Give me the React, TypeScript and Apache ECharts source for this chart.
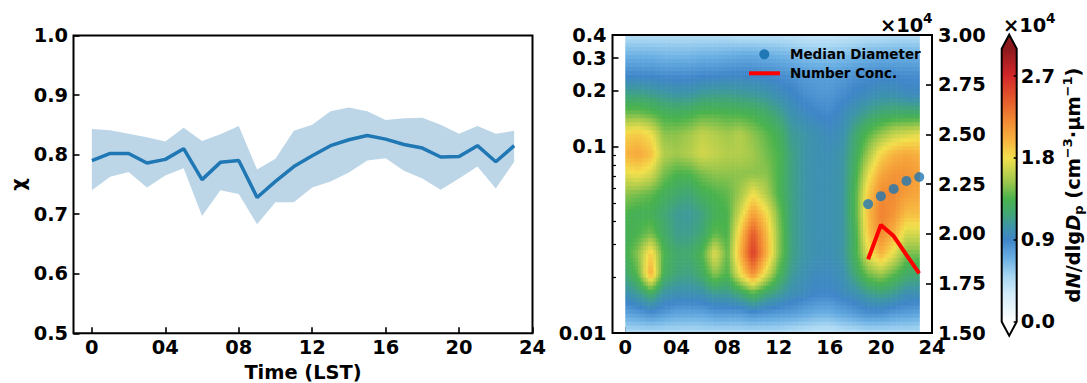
import React, { useEffect, useRef } from 'react';
import * as echarts from 'echarts';

// ---------------- data ----------------
const hours = [0, 1, 2, 3, 4, 5, 6, 7, 8, 9, 10, 11, 12, 13, 14, 15, 16, 17, 18, 19, 20, 21, 22, 23];
const chiMean = [0.79, 0.802, 0.802, 0.786, 0.792, 0.81, 0.758, 0.787, 0.79, 0.728, 0.755, 0.78, 0.798, 0.815, 0.825, 0.832, 0.826, 0.817, 0.811, 0.796, 0.797, 0.815, 0.788, 0.815];
const chiUpper = [0.843, 0.841, 0.835, 0.829, 0.822, 0.845, 0.823, 0.834, 0.848, 0.775, 0.793, 0.84, 0.85, 0.873, 0.879, 0.873, 0.858, 0.861, 0.862, 0.85, 0.835, 0.848, 0.835, 0.84];
const chiLower = [0.74, 0.763, 0.771, 0.745, 0.765, 0.777, 0.697, 0.74, 0.734, 0.683, 0.72, 0.72, 0.745, 0.755, 0.77, 0.79, 0.794, 0.773, 0.76, 0.741, 0.76, 0.78, 0.743, 0.788];

// particle diameter levels (µm) of the size distribution
const dpLevels = [0.01, 0.0128, 0.0164, 0.021, 0.0268, 0.0343, 0.0439, 0.0562, 0.0719, 0.092, 0.118, 0.151, 0.193, 0.246, 0.315, 0.4];
// dN/dlgDp (×10^4 cm^-3·µm^-1), one row per diameter level, one column per hour
const dNdlgDp = [
  [0.45, 0.45, 0.45, 0.45, 0.45, 0.45, 0.45, 0.45, 0.45, 0.45, 0.45, 0.45, 0.45, 0.42, 0.4, 0.36, 0.36, 0.4, 0.42, 0.45, 0.45, 0.45, 0.45, 0.45],
  [0.75, 0.8, 0.85, 0.8, 0.75, 0.75, 0.75, 0.8, 0.8, 0.8, 0.85, 0.82, 0.8, 0.78, 0.75, 0.7, 0.7, 0.75, 0.8, 0.85, 0.85, 0.8, 0.78, 0.75],
  [1.0, 1.1, 1.25, 1.05, 1.0, 1.0, 1.02, 1.1, 1.1, 1.2, 1.35, 1.2, 1.1, 1.0, 0.95, 0.9, 0.9, 0.95, 1.0, 1.1, 1.15, 1.1, 1.0, 1.0],
  [1.2, 1.4, 2.05, 1.3, 1.18, 1.15, 1.25, 1.5, 1.35, 1.8, 2.2, 1.75, 1.35, 1.1, 1.0, 0.95, 0.95, 1.0, 1.2, 1.45, 1.55, 1.4, 1.25, 1.2],
  [1.3, 1.5, 1.9, 1.35, 1.22, 1.22, 1.35, 1.75, 1.4, 2.0, 2.6, 2.05, 1.5, 1.15, 1.05, 1.0, 0.98, 1.05, 1.3, 1.75, 2.0, 1.75, 1.45, 1.45],
  [1.3, 1.35, 1.45, 1.25, 1.12, 1.12, 1.2, 1.4, 1.35, 1.9, 2.45, 2.0, 1.5, 1.15, 1.05, 1.0, 1.0, 1.05, 1.3, 1.9, 2.2, 2.0, 1.7, 1.7],
  [1.35, 1.3, 1.3, 1.2, 1.1, 1.08, 1.15, 1.3, 1.35, 1.7, 2.1, 1.85, 1.45, 1.15, 1.05, 1.0, 1.0, 1.05, 1.35, 1.95, 2.25, 2.15, 1.95, 1.95],
  [1.5, 1.45, 1.4, 1.3, 1.22, 1.18, 1.3, 1.35, 1.4, 1.55, 1.8, 1.6, 1.35, 1.15, 1.05, 1.0, 1.0, 1.05, 1.35, 1.9, 2.2, 2.2, 2.1, 2.05],
  [1.75, 1.8, 1.7, 1.45, 1.35, 1.35, 1.45, 1.5, 1.5, 1.5, 1.5, 1.5, 1.35, 1.15, 1.05, 1.0, 1.0, 1.05, 1.3, 1.75, 2.05, 2.15, 2.15, 2.1],
  [2.0, 2.05, 1.95, 1.6, 1.55, 1.6, 1.7, 1.65, 1.6, 1.6, 1.55, 1.45, 1.35, 1.15, 1.05, 1.0, 0.98, 1.05, 1.25, 1.55, 1.85, 2.0, 2.05, 2.0],
  [1.85, 1.9, 1.8, 1.5, 1.5, 1.55, 1.65, 1.6, 1.55, 1.6, 1.5, 1.4, 1.3, 1.1, 1.05, 1.0, 0.95, 1.0, 1.2, 1.38, 1.52, 1.65, 1.7, 1.75],
  [1.45, 1.45, 1.4, 1.32, 1.3, 1.32, 1.38, 1.38, 1.36, 1.35, 1.32, 1.25, 1.15, 1.02, 0.95, 0.9, 0.88, 0.95, 1.05, 1.15, 1.22, 1.25, 1.25, 1.25],
  [1.15, 1.15, 1.12, 1.08, 1.05, 1.05, 1.1, 1.12, 1.12, 1.1, 1.08, 1.05, 0.98, 0.92, 0.86, 0.82, 0.82, 0.86, 0.92, 0.96, 1.0, 1.0, 0.96, 0.95],
  [0.88, 0.88, 0.88, 0.86, 0.86, 0.86, 0.88, 0.88, 0.9, 0.9, 0.9, 0.88, 0.86, 0.84, 0.8, 0.78, 0.78, 0.8, 0.84, 0.86, 0.88, 0.88, 0.86, 0.86],
  [0.68, 0.68, 0.68, 0.66, 0.66, 0.66, 0.68, 0.68, 0.7, 0.72, 0.72, 0.7, 0.68, 0.65, 0.62, 0.6, 0.6, 0.62, 0.65, 0.68, 0.7, 0.7, 0.7, 0.7],
  [0.45, 0.45, 0.45, 0.45, 0.45, 0.45, 0.45, 0.45, 0.45, 0.42, 0.42, 0.42, 0.42, 0.4, 0.38, 0.36, 0.36, 0.38, 0.4, 0.42, 0.42, 0.45, 0.45, 0.45],
];

const evHours = [19, 20, 21, 22, 23];
const medianDiameter = [0.0493, 0.0544, 0.0595, 0.0657, 0.069];
const numberConc = [18710, 20440, 19880, 18930, 18000];

const timeTicks = [0, 4, 8, 12, 16, 20, 24];
const dpMajorTicks = [0.01, 0.1, 0.2, 0.3, 0.4];
const dpMinorTicks = [0.02, 0.03, 0.04, 0.05, 0.06, 0.07, 0.08, 0.09];
const cbTicks = [0, 0.9, 1.8, 2.7];
const cbMin = 0;
const cbMax = 3.0;

// ---------------- styles ----------------
const FONT = 'DejaVu Sans';
const cmapStops: [number, string][] = [
  [0.0, '#ffffff'],
  [0.3, '#d3ecfa'],
  [0.5, '#a7d6f2'],
  [0.7, '#6aafe3'],
  [0.9, '#3f86c9'],
  [1.05, '#3e96a6'],
  [1.2, '#42a872'],
  [1.35, '#4ab34e'],
  [1.55, '#a3c94c'],
  [1.8, '#f3e04d'],
  [2.0, '#f7b23f'],
  [2.2, '#f28b33'],
  [2.45, '#e4582b'],
  [2.7, '#d3272a'],
  [3.0, '#8c191c'],
];
const hexToRgb = (h: string) => [parseInt(h.slice(1, 3), 16), parseInt(h.slice(3, 5), 16), parseInt(h.slice(5, 7), 16)];
const stopRgb = cmapStops.map(([v, c]) => [v, hexToRgb(c)] as [number, number[]]);
function cmap(v: number) {
  if (v <= stopRgb[0][0]) return cmapStops[0][1];
  for (let k = 1; k < stopRgb.length; k++) {
    const [v1, c1] = stopRgb[k];
    if (v <= v1) {
      const [v0, c0] = stopRgb[k - 1];
      const t = (v - v0) / (v1 - v0);
      const r = Math.round(c0[0] + (c1[0] - c0[0]) * t);
      const g = Math.round(c0[1] + (c1[1] - c0[1]) * t);
      const b = Math.round(c0[2] + (c1[2] - c0[2]) * t);
      return `rgb(${r},${g},${b})`;
    }
  }
  return cmapStops[cmapStops.length - 1][1];
}

const labelStyle = { color: '#000', fontFamily: FONT, fontWeight: 'bold', fontSize: 19.4 };
const tickLine = { color: '#000', width: 1.6 };
const fmtHour = (v: number) => (v === 0 ? '0' : String(v).padStart(2, '0'));
const log10 = (v: number) => Math.log10(v);

const CB_L = 1001.7, CB_T = 48.7, CB_W = 15, CB_H = 273;

function timeAxis(gridIndex: number) {
  return {
    type: 'value', gridIndex, min: -1, max: 24,
    axisLine: { show: false, onZero: false },
    splitLine: { show: false },
    axisTick: { show: true, inside: true, length: 6, customValues: timeTicks, lineStyle: tickLine },
    axisLabel: { customValues: timeTicks, formatter: fmtHour, margin: 5, ...labelStyle },
  };
}

function buildOption() {
  const heatData: number[][] = [];
  for (let j = 0; j < dpLevels.length - 1; j++) {
    for (let i = 0; i < hours.length - 1; i++) {
      heatData.push([hours[i], log10(dpLevels[j]), i, j]);
    }
  }
  const SUB = 5;
  const renderHeat = (params: any, api: any) => {
    const i = api.value(2);
    const j = api.value(3);
    const p00 = api.coord([hours[i], log10(dpLevels[j])]);
    const p11 = api.coord([hours[i + 1], log10(dpLevels[j + 1])]);
    const v00 = dNdlgDp[j][i], v10 = dNdlgDp[j][i + 1];
    const v01 = dNdlgDp[j + 1][i], v11 = dNdlgDp[j + 1][i + 1];
    const w = (p11[0] - p00[0]) / SUB;
    const h = (p00[1] - p11[1]) / SUB;
    const children: any[] = [];
    for (let a = 0; a < SUB; a++) {
      for (let b = 0; b < SUB; b++) {
        const fx = (a + 0.5) / SUB;
        const fy = (b + 0.5) / SUB;
        const v = v00 * (1 - fx) * (1 - fy) + v10 * fx * (1 - fy) + v01 * (1 - fx) * fy + v11 * fx * fy;
        children.push({
          type: 'rect',
          shape: { x: p00[0] + a * w, y: p00[1] - (b + 1) * h, width: w + 0.6, height: h + 0.6 },
          style: { fill: cmap(v) },
        });
      }
    }
    return { type: 'group', children };
  };

  const renderBand = (params: any, api: any) => {
    if (params.dataIndex !== 0) return null;
    const pts: number[][] = [];
    hours.forEach((h, i) => pts.push(api.coord([h, chiUpper[i]])));
    for (let i = hours.length - 1; i >= 0; i--) pts.push(api.coord([hours[i], chiLower[i]]));
    return { type: 'polygon', shape: { points: pts }, style: { fill: '#bcd6e8' } };
  };

  const gradStops = cmapStops.map(([v, c]) => ({ offset: (v - cbMin) / (cbMax - cbMin), color: c }));
  const T = { fontFamily: FONT, fontWeight: 'bold', fill: '#000' };

  return {
    animation: false,
    backgroundColor: '#fff',
    grid: [
      { left: 73.5, top: 35.5, width: 459, height: 297.8, show: true, borderColor: '#000', borderWidth: 2, backgroundColor: 'transparent', outerBoundsMode: 'none', z: 10 },
      { left: 612.5, top: 35, width: 319.5, height: 298, show: true, borderColor: '#000', borderWidth: 2, backgroundColor: 'transparent', outerBoundsMode: 'none', z: 10 },
      { left: CB_L, top: CB_T, width: CB_W, height: CB_H, show: false, outerBoundsMode: 'none' },
    ],
    xAxis: [
      timeAxis(0),
      timeAxis(1),
      { type: 'value', gridIndex: 2, min: 0, max: 1, show: false },
    ],
    yAxis: [
      {
        type: 'value', gridIndex: 0, min: 0.5, max: 1.0, interval: 0.1,
        axisLine: { show: false, onZero: false }, splitLine: { show: false },
        axisTick: { show: true, inside: true, length: 6, lineStyle: tickLine },
        axisLabel: { formatter: (v: number) => v.toFixed(1), margin: 5.5, ...labelStyle },
      },
      {
        type: 'value', gridIndex: 1, position: 'left', min: log10(0.01), max: log10(0.4),
        axisLine: { show: false, onZero: false }, splitLine: { show: false },
        axisTick: { show: true, inside: true, length: 6, customValues: dpMajorTicks.map(log10), lineStyle: tickLine },
        axisLabel: { customValues: dpMajorTicks.map(log10), formatter: (v: number) => String(Number(Math.pow(10, v).toPrecision(2))), margin: 6, ...labelStyle },
      },
      {
        type: 'value', gridIndex: 1, position: 'right', min: 15000, max: 30000, interval: 2500,
        axisLine: { show: false, onZero: false }, splitLine: { show: false },
        axisTick: { show: true, inside: true, length: 6, lineStyle: tickLine },
        axisLabel: { formatter: (v: number) => (v / 1e4).toFixed(2), margin: 6, ...labelStyle },
      },
      {
        type: 'value', gridIndex: 1, position: 'left', min: log10(0.01), max: log10(0.4),
        axisLine: { show: false, onZero: false }, splitLine: { show: false },
        axisTick: { show: true, inside: true, length: 3.5, customValues: dpMinorTicks.map(log10), lineStyle: { color: '#000', width: 1.2 } },
        axisLabel: { show: false },
      },
      {
        type: 'value', gridIndex: 2, position: 'right', min: cbMin, max: cbMax, z: 20,
        axisLine: { show: false, onZero: false }, splitLine: { show: false },
        axisTick: { show: true, inside: true, length: 3, customValues: cbTicks, lineStyle: tickLine },
        axisLabel: { customValues: cbTicks, formatter: (v: number) => v.toFixed(1), margin: 4, ...labelStyle },
      },
    ],
    series: [
      {
        type: 'custom', xAxisIndex: 0, yAxisIndex: 0, silent: true, z: 1,
        encode: { x: 0, y: [1, 2] },
        renderItem: renderBand,
        data: hours.map((h, i) => [h, chiLower[i], chiUpper[i]]),
      },
      {
        type: 'line', xAxisIndex: 0, yAxisIndex: 0, symbol: 'none', silent: true, z: 3,
        lineStyle: { color: '#1f77b4', width: 3.5 },
        data: hours.map((h, i) => [h, chiMean[i]]),
      },
      {
        type: 'custom', xAxisIndex: 1, yAxisIndex: 1, silent: true, z: 1,
        encode: { x: 0, y: 1 },
        renderItem: renderHeat,
        data: heatData,
      },
      {
        type: 'scatter', name: 'Median Diameter', xAxisIndex: 1, yAxisIndex: 1, symbol: 'circle', symbolSize: 10, z: 12,
        itemStyle: { color: '#1f77b4' },
        data: evHours.map((h, i) => [h, log10(medianDiameter[i])]),
      },
      {
        type: 'line', name: 'Number Conc.', xAxisIndex: 1, yAxisIndex: 2, symbol: 'none', z: 12,
        lineStyle: { color: '#ff0000', width: 4 },
        data: evHours.map((h, i) => [h, numberConc[i]]),
      },
    ],
    graphic: {
      elements: [
        { type: 'text', x: 18.5, y: 184.4, rotation: Math.PI / 2, style: { ...T, text: 'χ', fontSize: 19.4, align: 'center', verticalAlign: 'middle', textAlign: 'center', textVerticalAlign: 'middle' } },
        { type: 'text', x: 303, y: 372, style: { ...T, text: 'Time (LST)', fontSize: 19.4, align: 'center', verticalAlign: 'middle', textAlign: 'center', textVerticalAlign: 'middle' } },
        { type: 'text', x: 880, y: 25.5, style: { ...T, text: '×10', fontSize: 19.4, align: 'left', verticalAlign: 'middle', textAlign: 'left', textVerticalAlign: 'middle' } },
        { type: 'text', x: 923, y: 18, style: { ...T, text: '4', fontSize: 13.6, align: 'left', verticalAlign: 'middle', textAlign: 'left', textVerticalAlign: 'middle' } },
        { type: 'text', x: 1003, y: 25.5, style: { ...T, text: '×10', fontSize: 19.4, align: 'left', verticalAlign: 'middle', textAlign: 'left', textVerticalAlign: 'middle' } },
        { type: 'text', x: 1046, y: 18, style: { ...T, text: '4', fontSize: 13.6, align: 'left', verticalAlign: 'middle', textAlign: 'left', textVerticalAlign: 'middle' } },
        {
          type: 'rect', z: 1, shape: { x: CB_L, y: CB_T, width: CB_W, height: CB_H },
          style: { fill: new echarts.graphic.LinearGradient(0, 1, 0, 0, gradStops) },
        },
        { type: 'polygon', z: 1, shape: { points: [[CB_L, CB_T + 0.5], [CB_L + CB_W, CB_T + 0.5], [CB_L + CB_W / 2, CB_T - 14]] }, style: { fill: cmap(cbMax) } },
        { type: 'polygon', z: 1, shape: { points: [[CB_L, CB_T + CB_H - 0.5], [CB_L + CB_W, CB_T + CB_H - 0.5], [CB_L + CB_W / 2, CB_T + CB_H + 14]] }, style: { fill: '#ffffff' } },
        {
          type: 'polygon', z: 2,
          shape: { points: [[CB_L, CB_T], [CB_L + CB_W / 2, CB_T - 14], [CB_L + CB_W, CB_T], [CB_L + CB_W, CB_T + CB_H], [CB_L + CB_W / 2, CB_T + CB_H + 14], [CB_L, CB_T + CB_H]] },
          style: { fill: 'none', stroke: '#000', lineWidth: 2 },
        },
        { type: 'circle', z: 20, shape: { cx: 764.3, cy: 54.3, r: 5 }, style: { fill: '#1f77b4' } },
        { type: 'text', z: 20, x: 790, y: 54.3, style: { ...T, text: 'Median Diameter', fontSize: 13.5, align: 'left', verticalAlign: 'middle', textAlign: 'left', textVerticalAlign: 'middle' } },
        { type: 'line', z: 20, shape: { x1: 749, y1: 73.3, x2: 780, y2: 73.3 }, style: { stroke: '#ff0000', lineWidth: 4 } },
        { type: 'text', z: 20, x: 790, y: 73.3, style: { ...T, text: 'Number Conc.', fontSize: 13.5, align: 'left', verticalAlign: 'middle', textAlign: 'left', textVerticalAlign: 'middle' } },
        {
          type: 'text', x: 1073, y: 185, rotation: Math.PI / 2,
          style: {
            ...T,
            text: 'd{i|N}/dlg{i|D}{sub|p} (cm{sup|−3}·µm{sup|−1})',
            fontSize: 19.4, lineHeight: 24,
            align: 'center', verticalAlign: 'middle', textAlign: 'center', textVerticalAlign: 'middle',
            rich: {
              i: { fontFamily: FONT, fontWeight: 'bold', fontStyle: 'italic', fontSize: 19.4, lineHeight: 24, fill: '#000' },
              sub: { fontFamily: FONT, fontWeight: 'bold', fontSize: 13, lineHeight: 14, verticalAlign: 'bottom', fill: '#000' },
              sup: { fontFamily: FONT, fontWeight: 'bold', fontSize: 13, lineHeight: 14, verticalAlign: 'top', fill: '#000' },
            },
          },
        },
      ],
    },
  };
}

export default function App() {
  const ref = useRef<HTMLDivElement>(null);
  useEffect(() => {
    const chart = echarts.init(ref.current as HTMLDivElement, null, { renderer: 'svg' });
    chart.setOption(buildOption() as any);
    return () => chart.dispose();
  }, []);
  return <div ref={ref} style={{ position: 'fixed', left: 0, top: 0, width: 1087, height: 383, background: '#fff' }} />;
}
